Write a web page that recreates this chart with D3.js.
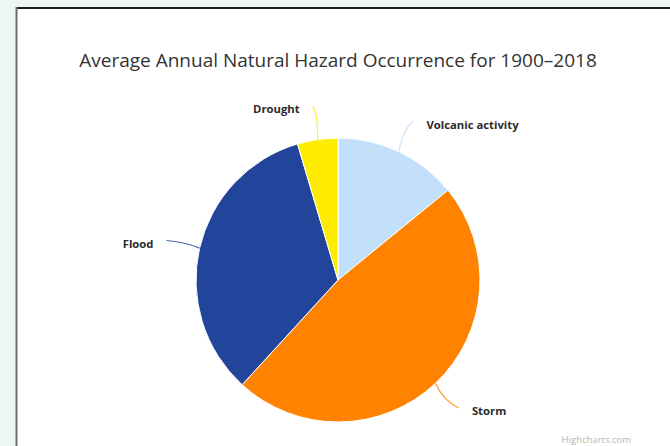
<!DOCTYPE html>
<html>
<head>
<meta charset="utf-8">
<script src="https://cdn.jsdelivr.net/npm/d3@7"></script>
<style>
  html, body { margin: 0; padding: 0; background: #eef6f2; }
  svg { display: block; }
</style>
</head>
<body>
<svg id="chart" width="670" height="446"></svg>
<script>
// Hazard categories, in drawing order (clockwise from 12 o'clock)
const categories = ["Volcanic activity", "Storm", "Flood", "Drought"];
// Share of average annual occurrences (%)
const values = [14.1, 47.7, 33.6, 4.6];
const colors = ["#c3e0fa", "#ff8200", "#22449a", "#fdec00"];

const titleText = "Average Annual Natural Hazard Occurrence for 1900\u20132018";
const creditText = "Highcharts.com";

const W = 670, H = 446;
const svg = d3.select("#chart");

// Card background with its frame
svg.append("rect").attr("x", 17).attr("y", 8).attr("width", W - 17).attr("height", H - 8).attr("fill", "#ffffff");
svg.append("line").attr("x1", 16).attr("x2", W).attr("y1", 8).attr("y2", 8)
  .attr("stroke", "#1e1e1e").attr("stroke-width", 2);
svg.append("line").attr("x1", 16.5).attr("x2", 16.5).attr("y1", 7).attr("y2", H)
  .attr("stroke", "#6c6c6c").attr("stroke-width", 2);

// Title
svg.append("text")
  .attr("x", 338).attr("y", 67)
  .attr("text-anchor", "middle")
  .attr("font-family", "'Open Sans', 'DejaVu Sans', sans-serif")
  .attr("font-size", 19)
  .attr("fill", "#333333")
  .text(titleText);

// Pie
const cx = 338, cy = 280, R = 142;
const g = svg.append("g").attr("transform", `translate(${cx},${cy})`);

const data = categories.map((c, i) => ({ name: c, value: values[i], color: colors[i] }));
const pie = d3.pie().value(d => d.value).sort(null);
const arcs = pie(data);
const arc = d3.arc().innerRadius(0).outerRadius(R);

g.selectAll("path.slice")
  .data(arcs)
  .join("path")
  .attr("class", "slice")
  .attr("d", arc)
  .attr("fill", d => d.data.color)
  .attr("stroke", "#ffffff")
  .attr("stroke-width", 1)
  .attr("stroke-linejoin", "round");

// Data labels with soft connectors
const edgeArc = d3.arc().innerRadius(R).outerRadius(R);
const outArc = d3.arc().innerRadius(R + 34).outerRadius(R + 34);

arcs.forEach(a => {
  const mid = (a.startAngle + a.endAngle) / 2;
  const p0 = edgeArc.centroid(a);
  const p1 = outArc.centroid(a);
  const right = Math.sin(mid) >= 0;
  // slight bend toward the label side
  const ctrl = [p0[0] + (p1[0] - p0[0]) * 0.45 + (right ? -3 : 3), p0[1] + (p1[1] - p0[1]) * 0.7];
  g.append("path")
    .attr("d", `M${p0[0]},${p0[1]} Q${ctrl[0]},${ctrl[1]} ${p1[0]},${p1[1]}`)
    .attr("fill", "none")
    .attr("stroke", a.data.color)
    .attr("stroke-width", 1.2)
    .attr("stroke-opacity", 0.8);
  g.append("text")
    .attr("x", p1[0] + (right ? 13 : -13))
    .attr("y", p1[1] + 3)
    .attr("text-anchor", right ? "start" : "end")
    .attr("dominant-baseline", "central")
    .attr("font-family", "'Open Sans', 'DejaVu Sans', sans-serif")
    .attr("font-weight", "bold")
    .attr("font-size", 11.3)
    .attr("fill", "#2b2b2b")
    .text(a.data.name);
});

// Credits
svg.append("text")
  .attr("x", 631).attr("y", 443)
  .attr("text-anchor", "end")
  .attr("font-family", "'Open Sans', 'DejaVu Sans', sans-serif")
  .attr("font-size", 9.5)
  .attr("fill", "#b5b5b5")
  .text(creditText);
</script>
</body>
</html>
